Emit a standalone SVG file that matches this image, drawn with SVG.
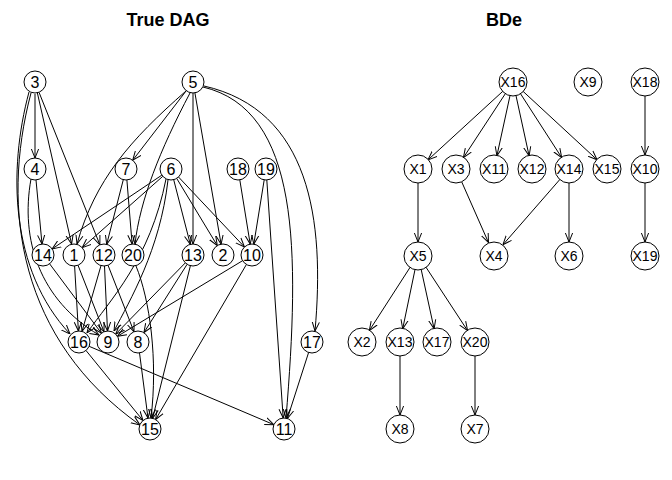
<svg xmlns="http://www.w3.org/2000/svg" width="672" height="480" viewBox="0 0 672 480">
<defs>
<marker id="a" viewBox="0 0 10 10" refX="10" refY="5" markerWidth="9" markerHeight="9" markerUnits="userSpaceOnUse" orient="auto"><path d="M0,1 L10,5 L0,9" fill="none" stroke="#000" stroke-width="1.1"/></marker>
</defs>
<style>
.e path,.e line{fill:none;stroke:#000;stroke-width:1;marker-end:url(#a)}
.n circle{fill:#fff;stroke:#000;stroke-width:1}
.n text{font-family:"Liberation Sans",Arial,sans-serif;font-size:16px;text-anchor:middle;dominant-baseline:central}
.r circle{fill:#fff;stroke:#000;stroke-width:1}
.r text{font-family:"Liberation Sans",Arial,sans-serif;font-size:14px;text-anchor:middle;dominant-baseline:central}
.t{font-family:"Liberation Sans",Arial,sans-serif;font-size:18px;font-weight:bold;text-anchor:middle}
</style>
<rect width="672" height="480" fill="#fff"/>
<text class="t" x="168" y="26">True DAG</text>
<text class="t" x="504" y="26">BDe</text>
<g id="edges-left" class="e">
<line x1="35" y1="94" x2="35" y2="158"/>
<line x1="37.4" y1="93" x2="71.6" y2="244"/>
<line x1="39.1" y1="92.5" x2="99.9" y2="244.8"/>
<path d="M29,92 C8,170 10,270 70,334"/>
<path d="M31,93 C0,210 20,340 140,425"/>
<line x1="36" y1="180" x2="42" y2="244"/>
<path d="M31,179 C20,240 40,300 99,335"/>
<line x1="186.3" y1="90.7" x2="132.7" y2="160.3"/>
<path d="M186,91 C130,140 95,180 77,244"/>
<path d="M190,93 C160,150 140,200 135,244"/>
<line x1="193" y1="93" x2="193" y2="244"/>
<line x1="194.9" y1="92.8" x2="221.1" y2="244.2"/>
<path d="M204,86 C310,110 325,220 315,331"/>
<path d="M203,87 C300,110 300,250 286,418"/>
<line x1="161.9" y1="175.1" x2="52.1" y2="248.9"/>
<line x1="162.8" y1="176.3" x2="82.2" y2="247.7"/>
<line x1="173.7" y1="179.7" x2="190.3" y2="244.3"/>
<line x1="176.7" y1="178.4" x2="217.3" y2="245.6"/>
<line x1="178.5" y1="177" x2="244.5" y2="247"/>
<path d="M168,180 C160,250 130,300 114,331"/>
<path d="M166,179 C150,260 110,300 87,333"/>
<line x1="123.3" y1="179.7" x2="106.7" y2="244.3"/>
<line x1="126.9" y1="180" x2="132.1" y2="244"/>
<line x1="239.8" y1="179.9" x2="250.2" y2="244.1"/>
<line x1="264.2" y1="179.9" x2="253.8" y2="244.1"/>
<line x1="266.8" y1="180" x2="283.2" y2="418"/>
<line x1="49.6" y1="263.8" x2="101.4" y2="333.2"/>
<line x1="74.6" y1="266" x2="78.4" y2="331"/>
<line x1="78" y1="265.2" x2="104" y2="331.8"/>
<line x1="101" y1="265.6" x2="82" y2="331.4"/>
<line x1="104.5" y1="266" x2="107.5" y2="331"/>
<line x1="108" y1="265.2" x2="134" y2="331.8"/>
<path d="M136,266 C150,300 158,360 151,418"/>
<line x1="185.3" y1="262.9" x2="115.7" y2="334.1"/>
<line x1="187.1" y1="264.3" x2="143.9" y2="332.7"/>
<line x1="190.4" y1="265.7" x2="152.6" y2="418.3"/>
<line x1="242.6" y1="260.7" x2="117.4" y2="336.3"/>
<line x1="246.4" y1="264.5" x2="155.6" y2="419.5"/>
<line x1="86" y1="350.5" x2="143" y2="420.5"/>
<line x1="89.1" y1="346.3" x2="273.9" y2="424.7"/>
<line x1="139.5" y1="352.9" x2="148" y2="418.1"/>
<line x1="308.6" y1="352.5" x2="287.4" y2="418.5"/>
</g>
<g id="edges-right" class="e">
<line x1="503" y1="91.1" x2="428" y2="159.9"/>
<line x1="505.6" y1="93.3" x2="463.4" y2="157.7"/>
<line x1="510.1" y1="95.2" x2="496.9" y2="155.8"/>
<line x1="515.9" y1="95.2" x2="529.1" y2="155.8"/>
<line x1="520.3" y1="93.4" x2="561.7" y2="157.6"/>
<line x1="522.9" y1="91.2" x2="597.1" y2="159.8"/>
<line x1="645" y1="96" x2="645" y2="155"/>
<line x1="645" y1="183" x2="645" y2="242"/>
<line x1="418" y1="183" x2="418" y2="242"/>
<line x1="461.5" y1="181.4" x2="488.5" y2="242.6"/>
<line x1="560.1" y1="179.2" x2="502.9" y2="244.8"/>
<line x1="569" y1="183" x2="569" y2="242"/>
<line x1="410.7" y1="266.4" x2="369.3" y2="330.6"/>
<line x1="415.3" y1="268.2" x2="402.7" y2="328.8"/>
<line x1="420.9" y1="268.2" x2="434.1" y2="328.8"/>
<line x1="425.4" y1="266.3" x2="467.6" y2="330.7"/>
<line x1="400" y1="356" x2="400" y2="415"/>
<line x1="475" y1="356" x2="475" y2="415"/>
</g>
<g id="n3" class="n"><circle cx="35" cy="82" r="11"/><text x="35" y="82">3</text></g>
<g id="n5" class="n"><circle cx="193" cy="82" r="11"/><text x="193" y="82">5</text></g>
<g id="n4" class="n"><circle cx="35" cy="169" r="11"/><text x="35" y="169">4</text></g>
<g id="n7" class="n"><circle cx="126" cy="169" r="11"/><text x="126" y="169">7</text></g>
<g id="n6" class="n"><circle cx="171" cy="169" r="11"/><text x="171" y="169">6</text></g>
<g id="n18" class="n"><circle cx="238" cy="169" r="11"/><text x="238" y="169">18</text></g>
<g id="n19" class="n"><circle cx="266" cy="169" r="11"/><text x="266" y="169">19</text></g>
<g id="n14" class="n"><circle cx="43" cy="255" r="11"/><text x="43" y="255">14</text></g>
<g id="n1" class="n"><circle cx="74" cy="255" r="11"/><text x="74" y="255">1</text></g>
<g id="n12" class="n"><circle cx="104" cy="255" r="11"/><text x="104" y="255">12</text></g>
<g id="n20" class="n"><circle cx="133" cy="255" r="11"/><text x="133" y="255">20</text></g>
<g id="n13" class="n"><circle cx="193" cy="255" r="11"/><text x="193" y="255">13</text></g>
<g id="n2" class="n"><circle cx="223" cy="255" r="11"/><text x="223" y="255">2</text></g>
<g id="n10" class="n"><circle cx="252" cy="255" r="11"/><text x="252" y="255">10</text></g>
<g id="n16" class="n"><circle cx="79" cy="342" r="11"/><text x="79" y="342">16</text></g>
<g id="n9" class="n"><circle cx="108" cy="342" r="11"/><text x="108" y="342">9</text></g>
<g id="n8" class="n"><circle cx="138" cy="342" r="11"/><text x="138" y="342">8</text></g>
<g id="n17" class="n"><circle cx="312" cy="342" r="11"/><text x="312" y="342">17</text></g>
<g id="n15" class="n"><circle cx="150" cy="429" r="11"/><text x="150" y="429">15</text></g>
<g id="n11" class="n"><circle cx="284" cy="429" r="11"/><text x="284" y="429">11</text></g>
<g id="X16" class="r"><circle cx="513" cy="82" r="14"/><text x="513" y="82">X16</text></g>
<g id="X9" class="r"><circle cx="588" cy="82" r="14"/><text x="588" y="82">X9</text></g>
<g id="X18" class="r"><circle cx="645" cy="82" r="14"/><text x="645" y="82">X18</text></g>
<g id="X1" class="r"><circle cx="418" cy="169" r="14"/><text x="418" y="169">X1</text></g>
<g id="X3" class="r"><circle cx="456" cy="169" r="14"/><text x="456" y="169">X3</text></g>
<g id="X11" class="r"><circle cx="494" cy="169" r="14"/><text x="494" y="169">X11</text></g>
<g id="X12" class="r"><circle cx="532" cy="169" r="14"/><text x="532" y="169">X12</text></g>
<g id="X14" class="r"><circle cx="569" cy="169" r="14"/><text x="569" y="169">X14</text></g>
<g id="X15" class="r"><circle cx="607" cy="169" r="14"/><text x="607" y="169">X15</text></g>
<g id="X10" class="r"><circle cx="645" cy="169" r="14"/><text x="645" y="169">X10</text></g>
<g id="X5" class="r"><circle cx="418" cy="256" r="14"/><text x="418" y="256">X5</text></g>
<g id="X4" class="r"><circle cx="494" cy="256" r="14"/><text x="494" y="256">X4</text></g>
<g id="X6" class="r"><circle cx="569" cy="256" r="14"/><text x="569" y="256">X6</text></g>
<g id="X19" class="r"><circle cx="645" cy="256" r="14"/><text x="645" y="256">X19</text></g>
<g id="X2" class="r"><circle cx="362" cy="342" r="14"/><text x="362" y="342">X2</text></g>
<g id="X13" class="r"><circle cx="400" cy="342" r="14"/><text x="400" y="342">X13</text></g>
<g id="X17" class="r"><circle cx="437" cy="342" r="14"/><text x="437" y="342">X17</text></g>
<g id="X20" class="r"><circle cx="475" cy="342" r="14"/><text x="475" y="342">X20</text></g>
<g id="X8" class="r"><circle cx="400" cy="429" r="14"/><text x="400" y="429">X8</text></g>
<g id="X7" class="r"><circle cx="475" cy="429" r="14"/><text x="475" y="429">X7</text></g>
</svg>
